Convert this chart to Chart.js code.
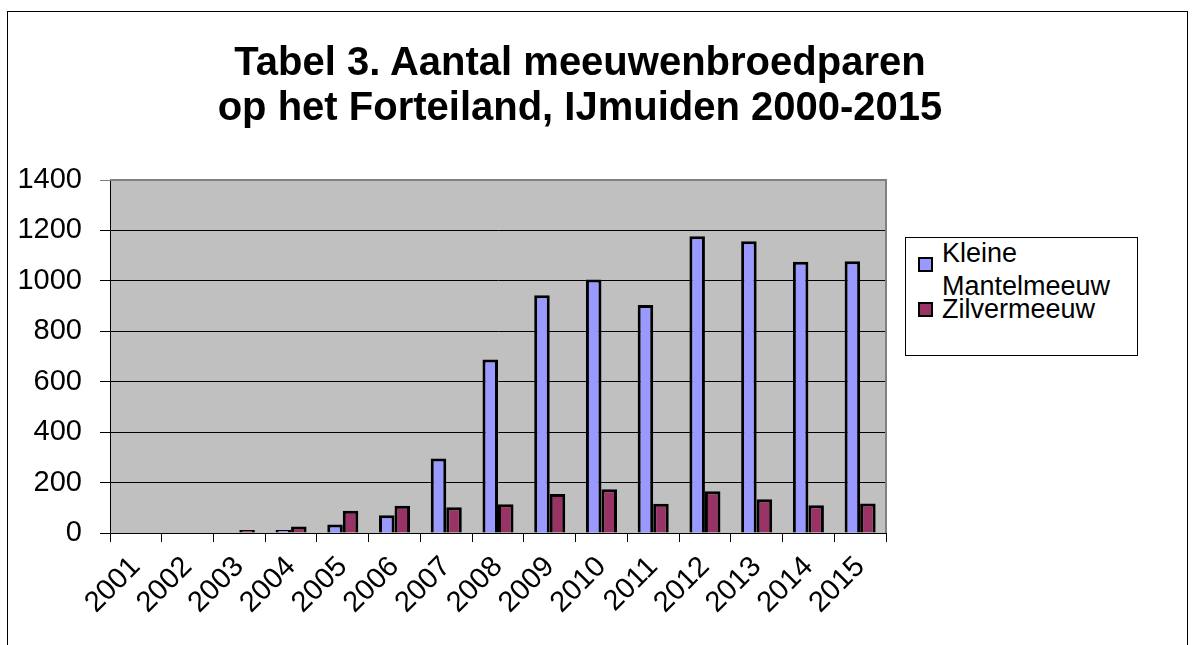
<!DOCTYPE html>
<html>
<head>
<meta charset="utf-8">
<script src="https://cdn.jsdelivr.net/npm/chart.js@4/dist/chart.umd.min.js"></script>
<style>
  html, body { margin: 0; padding: 0; background: #fff; }
  body { width: 1196px; height: 645px; position: relative; overflow: hidden; font-family: "Liberation Sans", Arial, sans-serif; }
  #frame { position: absolute; left: 7px; top: 11px; width: 1181px; height: 700px; border: 1px solid #000; box-sizing: border-box; }
  #chart { position: absolute; left: 0; top: 0; }
  #title { position: absolute; left: 0; top: 39px; width: 1160px; text-align: center; font-weight: bold; font-size: 40px; line-height: 45px; color: #000; }
  #legend { position: absolute; left: 905px; top: 237px; width: 233px; height: 119px; border: 1px solid #000; box-sizing: border-box; background: #fff; }
  #legend .txt { position: absolute; left: 36px; font-size: 27px; line-height: 27px; color: #000; white-space: nowrap; }
  #legend .box { position: absolute; left: 12px; width: 15px; height: 15px; border: 2px solid #000; box-sizing: border-box; }
</style>
</head>
<body>
<div id="frame"></div>
<canvas id="chart" width="1196" height="645"></canvas>
<div id="title">Tabel 3. Aantal meeuwenbroedparen<br>op het Forteiland, IJmuiden 2000-2015</div>
<div id="legend"></div>
<script>
// jaren en aantallen broedparen, null = geen telling/lege cel
const jaren = ['2001', '2002', '2003', '2004', '2005', '2006', '2007', '2008',
               '2009', '2010', '2011', '2012', '2013', '2014', '2015'];
const kleineMantelmeeuw = [null, null, null, 5, 34, 70, 295, 688, 943, 1005, 904, 1177, 1157, 1076, 1078];
const zilvermeeuw = [null, null, 5, 26, 88, 108, 102, 114, 155, 174, 116, 166, 134, 110, 117];
const yTicks = [0, 200, 400, 600, 800, 1000, 1200, 1400];

const reeksen = [
    { naam: 'Kleine Mantelmeeuw', regels: ['Kleine', 'Mantelmeeuw'], kleur: '#9999FF', data: kleineMantelmeeuw },
    { naam: 'Zilvermeeuw', regels: ['Zilvermeeuw'], kleur: '#993366', data: zilvermeeuw }
];

// grijze achtergrond van het plotgebied
const plotAchtergrond = {
    id: 'plotAchtergrond',
    beforeDraw(chart) {
        const a = chart.chartArea;
        const ctx = chart.ctx;
        ctx.save();
        ctx.fillStyle = '#C0C0C0';
        ctx.fillRect(a.left, a.top, a.right - a.left, a.bottom - a.top);
        ctx.restore();
    },
    afterDatasetsDraw(chart) {
        const a = chart.chartArea;
        const ctx = chart.ctx;
        ctx.save();
        ctx.strokeStyle = '#808080';
        ctx.lineWidth = 2;
        ctx.beginPath();
        ctx.moveTo(a.left, a.top);
        ctx.lineTo(a.right, a.top);
        ctx.lineTo(a.right, a.bottom);
        ctx.stroke();
        ctx.restore();
    }
};

const fontNaam = '"Liberation Sans", Arial, sans-serif';

new Chart(document.getElementById('chart'), {
    type: 'bar',
    data: {
        labels: jaren,
        datasets: reeksen.map(r => ({
            label: r.naam,
            data: r.data,
            backgroundColor: r.kleur,
            borderColor: '#000',
            borderWidth: 3,
            borderSkipped: 'start',
            minBarLength: 3,
            categoryPercentage: 0.6,
            barPercentage: 1.0
        }))
    },
    options: {
        responsive: false,
        animation: false,
        layout: { padding: { left: 0, right: 310, top: 180, bottom: 0 } },
        plugins: {
            legend: { display: false },
            title: { display: false },
            tooltip: { enabled: false }
        },
        scales: {
            x: {
                afterFit: s => { s.height = 112; },
                grid: {
                    offset: true,
                    drawOnChartArea: false,
                    drawTicks: true,
                    tickLength: 9,
                    color: '#000'
                },
                border: { color: '#000', width: 1 },
                ticks: {
                    color: '#000',
                    font: { family: fontNaam, size: 29 },
                    minRotation: 45,
                    maxRotation: 45,
                    padding: 8,
                    autoSkip: false
                }
            },
            y: {
                min: 0,
                max: 1400,
                afterFit: s => { s.width = 110; },
                afterBuildTicks: s => { s.ticks = yTicks.map(v => ({ value: v })); },
                grid: {
                    color: ctx => (ctx.tick && ctx.tick.value === 1400) ? '#808080' : '#000',
                    drawTicks: true,
                    tickLength: 10
                },
                border: { color: '#000', width: 1 },
                ticks: {
                    color: '#000',
                    font: { family: fontNaam, size: 29 },
                    padding: 18,
                    callback: v => String(v)
                }
            }
        }
    },
    plugins: [plotAchtergrond]
});

// legenda
const legenda = document.getElementById('legend');
const tekstTop = [2, 35, 58];
const boxTop = [19, 64];
let regel = 0;
reeksen.forEach((r, i) => {
    const box = document.createElement('div');
    box.className = 'box';
    box.style.top = boxTop[i] + 'px';
    box.style.background = r.kleur;
    legenda.appendChild(box);
    r.regels.forEach(t => {
        const span = document.createElement('div');
        span.className = 'txt';
        span.style.top = tekstTop[regel++] + 'px';
        span.textContent = t;
        legenda.appendChild(span);
    });
});
</script>
</body>
</html>
